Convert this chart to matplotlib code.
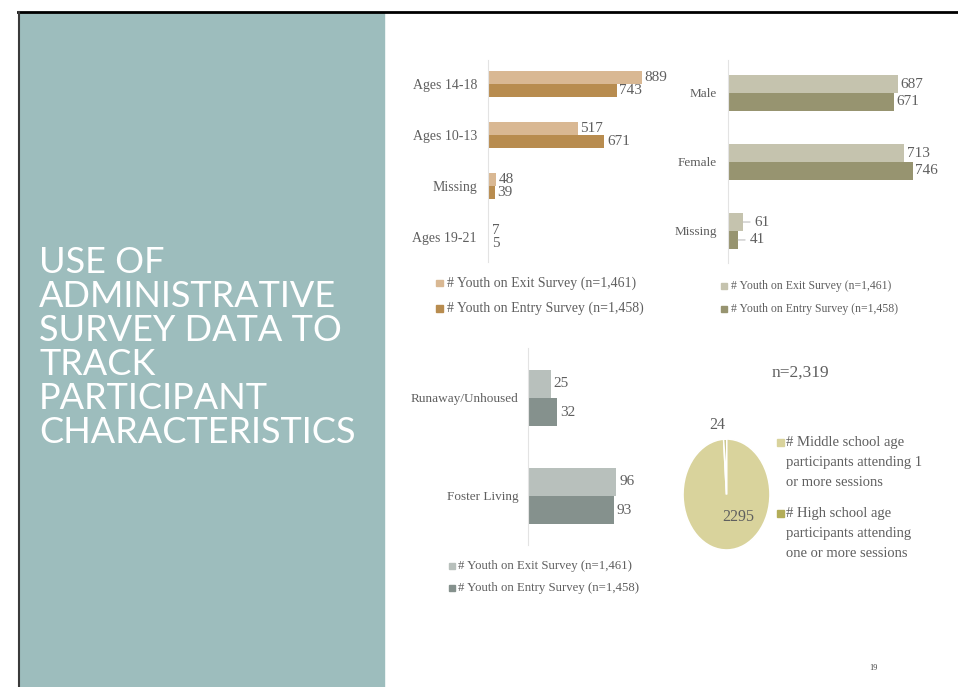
import numpy as np
import matplotlib.pyplot as plt
from matplotlib.patches import Rectangle
from matplotlib.lines import Line2D

W, H = 958, 687

# survey data
age_groups = ['Ages 14-18', 'Ages 10-13', 'Missing', 'Ages 19-21']
age_exit = [889, 517, 48, 7]
age_entry = [743, 671, 39, 5]

genders = ['Male', 'Female', 'Missing']
gender_exit = [687, 713, 61]
gender_entry = [671, 746, 41]

living = ['Runaway/Unhoused', 'Foster Living']
living_exit = [25, 96]
living_entry = [32, 93]

school_labels = ['# Middle school age\nparticipants attending 1\nor more sessions',
                 '# High school age\nparticipants attending\none or more sessions']
school_counts = [2295, 24]

exit_label = '# Youth on Exit Survey (n=1,461)'
entry_label = '# Youth on Entry Survey (n=1,458)'
title = 'USE OF\nADMINISTRATIVE\nSURVEY DATA TO\nTRACK\nPARTICIPANT\nCHARACTERISTICS'

TXT = '#5f5f5f'
plt.rcParams['font.family'] = 'Liberation Serif'

fig = plt.figure(figsize=(W / 100, H / 100), dpi=100)


def box(x0, y0, x1, y1):
    # pixel box (top-left origin) -> figure fraction rect
    return [x0 / W, 1 - y1 / H, (x1 - x0) / W, (y1 - y0) / H]


def fx(x):
    return x / W


def fy(y):
    return 1 - y / H


# side panel and frame
fig.patches.append(Rectangle((fx(20), 0), fx(384) - fx(20), fy(13), transform=fig.transFigure,
                             color='#9dbdbd', zorder=0))
fig.lines.append(Line2D([fx(18), 1], [fy(12), fy(12)], color='black', lw=2, transform=fig.transFigure))
fig.lines.append(Line2D([fx(19), fx(19)], [0, fy(12)], color='#3a3a3a', lw=1.5, transform=fig.transFigure))

# baseline of the last title line
fig.text(fx(39), fy(443), title, color='white', fontsize=26, family='Lato',
         va='baseline', ha='left', linespacing=1.04, multialignment='left')


def bar_panel(rect, cats, exit_vals, entry_vals, xmax, colors, bar_h, ylim,
              cat_size, val_size, pad, leader=()):
    ax = fig.add_axes(rect)
    y = np.arange(len(cats))
    ax.barh(y - bar_h / 2, exit_vals, height=bar_h, color=colors[0])
    ax.barh(y + bar_h / 2, entry_vals, height=bar_h, color=colors[1])
    ax.set_xlim(0, xmax)
    ax.set_ylim(*ylim)
    ax.set_yticks(y, cats)
    ax.set_xticks([])
    ax.tick_params(axis='y', length=0, pad=pad, labelsize=cat_size, labelcolor=TXT)
    for s in ['top', 'right', 'bottom']:
        ax.spines[s].set_visible(False)
    ax.spines['left'].set_color('#e3e3e3')
    ax.patch.set_alpha(0)
    for i, (a, b) in enumerate(zip(exit_vals, entry_vals)):
        for v, yy in ((a, i - bar_h / 2), (b, i + bar_h / 2)):
            if cats[i] in leader:
                ax.annotate(str(v), (v, yy), xytext=(8, 0), textcoords='offset points',
                            va='center', ha='left', fontsize=val_size, color=TXT,
                            arrowprops=dict(arrowstyle='-', color='#bdbdbd', lw=0.8,
                                            shrinkA=1, shrinkB=0))
            else:
                ax.annotate(str(v), (v, yy), xytext=(2, 0), textcoords='offset points',
                            va='center', ha='left', fontsize=val_size, color=TXT)
    return ax


def key(x, y, color, text, size=7, fs=10, gap=4):
    fig.patches.append(Rectangle((fx(x), fy(y + size / 2)), size / W, size / H,
                                 transform=fig.transFigure, color=color))
    fig.text(fx(x + size + gap), fy(y), text, fontsize=fs, color=TXT, va='center', ha='left')


# age chart
age_cols = ['#d9b893', '#b88c4f']
bar_panel(box(488, 60, 488 + 173.2, 262), age_groups, age_exit, age_entry, 1000,
          age_cols, 0.255, (3.49, -0.47), cat_size=10, val_size=11, pad=8)
key(436, 283, age_cols[0], exit_label, fs=10)
key(436, 308, age_cols[1], entry_label, fs=10)

# gender chart
gen_cols = ['#c5c3ae', '#979470']
bar_panel(box(728, 60, 728 + 247.5, 263), genders, gender_exit, gender_entry, 1000,
          gen_cols, 0.26, (2.464, -0.478), cat_size=9.5, val_size=11, pad=8,
          leader=('Missing',))
key(721, 286, gen_cols[0], exit_label, size=6, fs=8.5)
key(721, 309, gen_cols[1], entry_label, size=6, fs=8.5)

# living situation chart
liv_cols = ['#b8c0bc', '#85918d']
bar_panel(box(528, 348, 620, 545), living, living_exit, living_entry, 100,
          liv_cols, 0.286, (1.5, -0.51), cat_size=9.5, val_size=11, pad=7)
key(449, 566, liv_cols[0], exit_label, size=6, fs=9.2, gap=3)
key(449, 588, liv_cols[1], entry_label, size=6, fs=9.2, gap=3)

# school age pie
pie_cols = ['#d9d39c', '#b3ad58']
ax = fig.add_axes(box(683, 439, 770, 550))
ax.pie(school_counts, colors=pie_cols, startangle=90, counterclock=False,
       wedgeprops=dict(edgecolor='white', linewidth=1.2))
ax.set_aspect('auto')
ax.set_xlim(-1, 1)
ax.set_ylim(-1, 1)
ax.text(-0.22, 1.25, str(school_counts[1]), fontsize=11.5, color=TXT, ha='center', va='center')
ax.text(0.26, -0.40, str(school_counts[0]), fontsize=11.5, color=TXT, ha='center', va='center')
fig.text(fx(800), fy(373), 'n=2,319', fontsize=12.5, color=TXT, ha='center', va='center')

for lab, col, y0 in zip(school_labels, pie_cols, [442, 513]):
    fig.patches.append(Rectangle((fx(777), fy(y0 + 3.5)), 7 / W, 7 / H,
                                 transform=fig.transFigure, color=col))
    fig.text(fx(786), fy(y0 - 6), lab, fontsize=10.5, color=TXT, va='top', ha='left',
             linespacing=1.72)

fig.text(fx(873), fy(668), '19', fontsize=6, color='#444444', ha='center', va='center')

fig.savefig('out.png', dpi=100)
